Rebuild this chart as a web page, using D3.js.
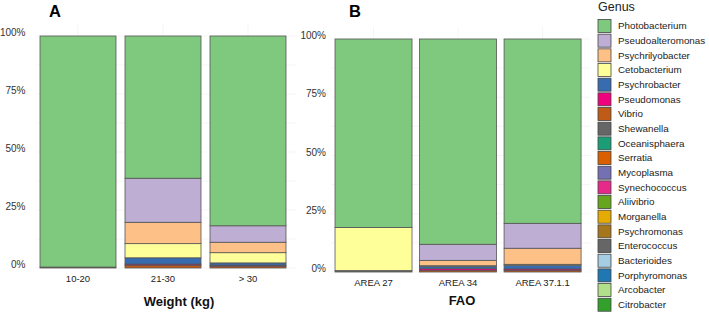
<!DOCTYPE html>
<html><head><meta charset="utf-8">
<script src="https://cdn.jsdelivr.net/npm/d3@7/dist/d3.min.js"></script>
<style>body{margin:0;background:#fff}svg{display:block;font-family:"Liberation Sans",Arial,sans-serif}</style>
</head><body><svg id="c" width="709" height="313"></svg>
<script>
const genera = ["Photobacterium","Pseudoalteromonas","Psychrilyobacter","Cetobacterium","Psychrobacter","Pseudomonas","Vibrio","Shewanella","Oceanisphaera","Serratia","Mycoplasma","Synechococcus","Aliivibrio","Morganella","Psychromonas","Enterococcus","Bacterioides","Porphyromonas","Arcobacter","Citrobacter"];
const genusColors = ["#7fc97f","#beaed4","#fdc086","#ffff99","#386cb0","#f0027f","#bf5b17","#666666","#1b9e77","#d95f02","#7570b3","#e7298a","#66a61e","#e6ab02","#a6761d","#666666","#a6cee3","#1f78b4","#b2df8a","#33a02c"];

const weightGroups = ["10-20","21-30","> 30"];
const faoAreas = ["AREA 27","AREA 34","AREA 37.1.1"];
const yTicks = [0,25,50,75,100];

// percentages per genus, in the order of `genera`
const w10_20 = [99.6,0,0,0,0,0,0.4,0,0,0,0,0,0,0,0,0,0,0,0,0];
const w21_30 = [61.3,19.0,9.2,6.1,2.7,0.5,1.2,0,0,0,0,0,0,0,0,0,0,0,0,0];
const wOver30 = [81.8,7.1,4.5,4.4,1.0,0.4,0.8,0,0,0,0,0,0,0,0,0,0,0,0,0];
const area27 = [80.9,0,0,18.5,0,0,0,0.6,0,0,0,0,0,0,0,0,0,0,0,0];
const area34 = [88.1,6.9,2.3,0.4,0.9,0.7,0.7,0,0,0,0,0,0,0,0,0,0,0,0,0];
const area37 = [79.1,10.7,6.9,0.4,1.6,0.6,0.7,0,0,0,0,0,0,0,0,0,0,0,0,0];

const svg = d3.select("#c");
const color = d3.scaleOrdinal(genera, genusColors);

function toRows(cats, arrs){
  return cats.map((c,i)=>{const o={cat:c}; genera.forEach((g,j)=>o[g]=arrs[i][j]); return o;});
}
const stackKeys = genera.slice().reverse(); // first genus on top

function panel(opt){
  const g = svg.append("g");
  const x = d3.scaleBand().domain(opt.cats).range(opt.xr).paddingInner(opt.pi).paddingOuter(opt.po);
  const y = d3.scaleLinear().domain([0,100]).range(opt.yr);
  const grid = g.append("g").attr("stroke","#eeeeee").attr("stroke-width",0.6);
  d3.range(0,101,12.5).forEach(v=>grid.append("line").attr("x1",opt.xr[0]).attr("x2",opt.xr[1]+6).attr("y1",y(v)).attr("y2",y(v)));
  opt.cats.forEach(c=>grid.append("line").attr("x1",x(c)+x.bandwidth()/2).attr("x2",x(c)+x.bandwidth()/2).attr("y1",y(100)-12).attr("y2",y(0)));
  const series = d3.stack().keys(stackKeys)(toRows(opt.cats, opt.data));
  g.append("g").selectAll("g").data(series).join("g").attr("fill",d=>color(d.key))
    .selectAll("rect").data(d=>d.filter(p=>p[1]-p[0]>0)).join("rect")
    .attr("x",d=>x(d.data.cat)).attr("width",x.bandwidth())
    .attr("y",d=>y(d[1])).attr("height",d=>y(d[0])-y(d[1]))
    .attr("stroke","#555").attr("stroke-width",0.8);
  const ya = g.append("g").attr("transform",`translate(${opt.yLabX},0)`)
    .call(d3.axisLeft(y).tickValues(yTicks).tickFormat(d=>d+"%").tickSize(0).tickPadding(0));
  ya.select(".domain").remove();
  ya.selectAll("text").attr("font-size",10).attr("fill","#333").attr("dy","-0.05em")
    .attr("font-family","Liberation Sans, Arial, sans-serif");
  const xa = g.append("g").attr("transform",`translate(0,${opt.yr[0]})`)
    .call(d3.axisBottom(x).tickSize(0).tickPadding(7));
  xa.select(".domain").remove();
  xa.selectAll("text").attr("font-size",9.5).attr("fill","#222").attr("font-family","Liberation Sans, Arial, sans-serif");
  g.append("text").attr("x",opt.titleX).attr("y",opt.titleY).attr("text-anchor","middle")
    .attr("font-weight","bold").attr("font-size",13).attr("fill","#111").text(opt.title);
  g.append("text").attr("x",opt.letterX).attr("y",17).attr("font-weight","bold")
    .attr("font-size",16.5).attr("fill","#000").text(opt.letter);
}

panel({cats:weightGroups, data:[w10_20,w21_30,wOver30], xr:[35.5,290.5], pi:0.106, po:0.053,
  yr:[268,36], yLabX:25.5, title:"Weight (kg)", titleX:179, titleY:306, letter:"A", letterX:49});
panel({cats:faoAreas, data:[area27,area34,area37], xr:[331.3,584.8], pi:0.089, po:0.044,
  yr:[272,39], yLabX:326, title:"FAO", titleX:462, titleY:305, letter:"B", letterX:349});

const lg = svg.append("g");
lg.append("text").attr("x",598).attr("y",11).attr("font-size",12.5).attr("fill","#222").text("Genus");
const items = lg.selectAll("g.item").data(genera).join("g").attr("class","item")
  .attr("transform",(d,i)=>`translate(598,${19.5+i*14.67})`);
items.append("rect").attr("width",13).attr("height",13).attr("fill",d=>color(d)).attr("stroke","#444").attr("stroke-width",0.8);
items.append("text").attr("x",20).attr("y",6.5).attr("dy","0.35em").attr("font-size",9.8).attr("fill","#222").text(d=>d);
</script></body></html>
